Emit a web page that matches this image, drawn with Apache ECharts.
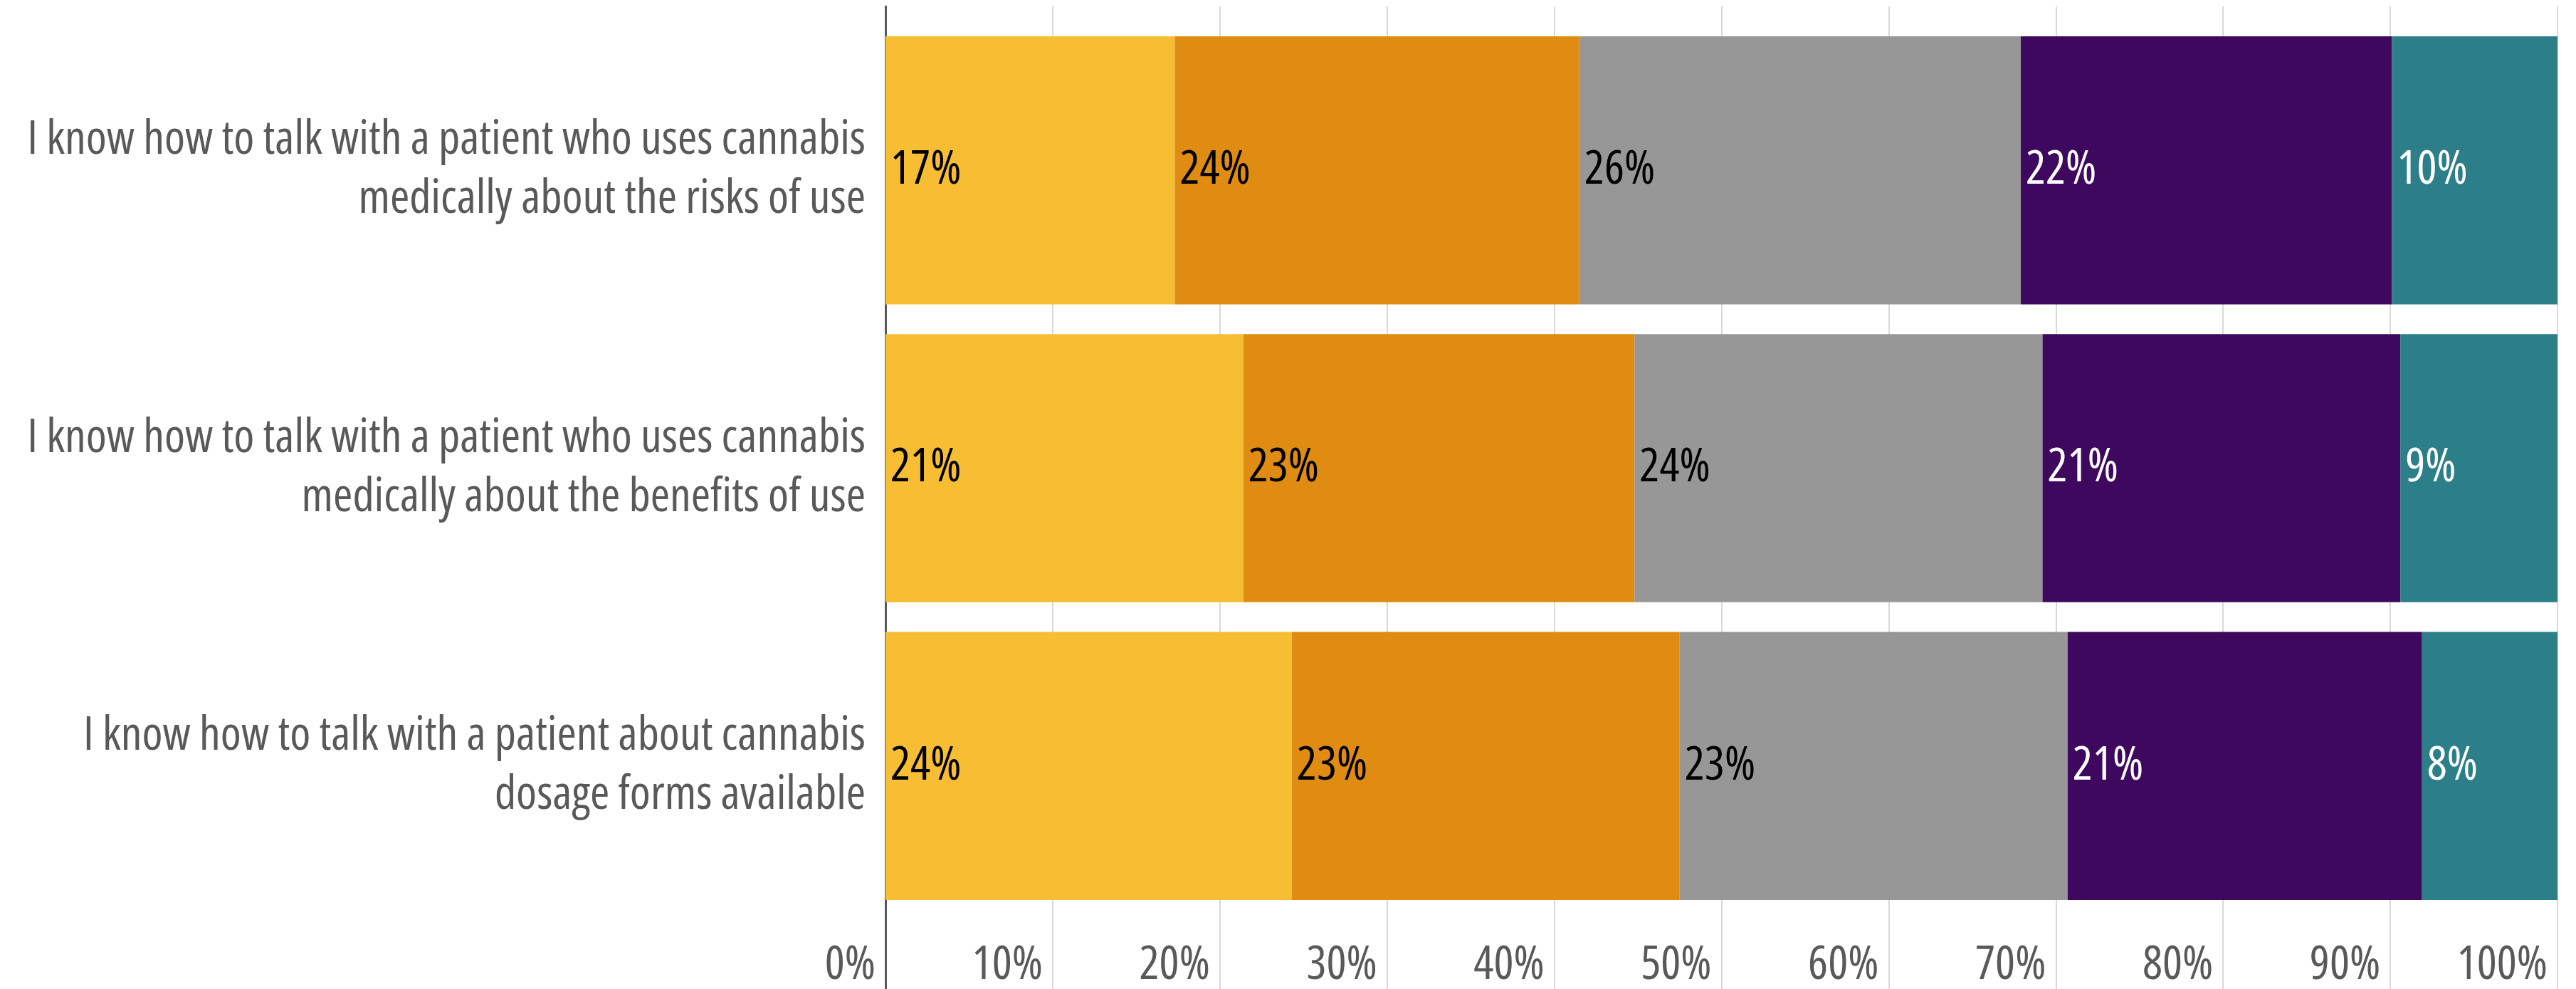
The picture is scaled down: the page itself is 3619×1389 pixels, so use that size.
<!DOCTYPE html>
<html>
<head>
<meta charset="utf-8">
<script src="https://cdn.jsdelivr.net/npm/echarts@6/dist/echarts.min.js"></script>
<style>
html,body{margin:0;padding:0;background:#fff;}
#chart{width:3619px;height:1389px;}
</style>
</head>
<body>
<div id="chart"></div>
<script>
const categories = [
  "I know how to talk with a patient who uses cannabis\nmedically about the risks of use",
  "I know how to talk with a patient who uses cannabis\nmedically about the benefits of use",
  "I know how to talk with a patient about cannabis\ndosage forms available"
];
const seriesNames = ["Strongly disagree", "Disagree", "Neutral", "Agree", "Strongly agree"];
const s1 = [17.3, 21.4, 24.3];
const s2 = [24.2, 23.4, 23.2];
const s3 = [26.4, 24.4, 23.2];
const s4 = [22.2, 21.4, 21.2];
const s5 = [9.9, 9.4, 8.1];
const xTicks = [0, 10, 20, 30, 40, 50, 60, 70, 80, 90, 100];

const colors = ["#F7BE33", "#E08C12", "#979797", "#3E085E", "#2C7E88"];
const labelColors = ["#000000", "#000000", "#000000", "#ffffff", "#ffffff"];
const FONT = "'Open Sans', 'Noto Sans', sans-serif";
const WEIGHT = "normal condensed";
const FS = 66;

const chart = echarts.init(document.getElementById('chart'), null, {renderer: 'canvas'});
const allData = [s1, s2, s3, s4, s5];

const series = allData.map((d, i) => ({
  name: seriesNames[i],
  type: 'bar',
  stack: 'total',
  xAxisIndex: 0,
  yAxisIndex: 0,
  barCategoryGap: '10%',
  data: d,
  itemStyle: {color: colors[i]},
  label: {
    show: true,
    position: 'insideLeft',
    distance: 7,
    formatter: p => Math.round(p.value) + '%',
    color: labelColors[i],
    fontFamily: FONT,
    fontWeight: WEIGHT,
    fontSize: FS
  },
  emphasis: {disabled: true}
}));

chart.setOption({
  animation: false,
  backgroundColor: '#ffffff',
  grid: [
    {left: 1244, right: 26, top: 30, bottom: 104, containLabel: false, outerBoundsMode: 'none'},
    {left: 1244, right: 26, top: 9, bottom: 0, containLabel: false, outerBoundsMode: 'none'}
  ],
  xAxis: [
    {
      gridIndex: 0, type: 'value', min: 0, max: 100, interval: 10,
      axisLine: {show: false}, axisTick: {show: false}, splitLine: {show: false},
      axisLabel: {
        show: true, formatter: v => xTicks.includes(v) ? v + '%' : '',
        align: 'right', padding: [0, 14, 0, 0], margin: 38,
        color: '#595959', fontFamily: FONT, fontWeight: WEIGHT, fontSize: FS
      }
    },
    {
      gridIndex: 1, type: 'value', min: 0, max: 100, interval: 10,
      axisLine: {show: false}, axisTick: {show: false}, axisLabel: {show: false},
      splitLine: {show: true, lineStyle: {color: '#D9D9D9', width: 2}}
    }
  ],
  yAxis: [
    {
      gridIndex: 0, type: 'category', data: categories, inverse: true,
      axisLine: {show: false}, axisTick: {show: false},
      axisLabel: {
        margin: 28, color: '#595959', fontFamily: FONT, fontWeight: WEIGHT, fontSize: FS,
        lineHeight: 83, align: 'right', padding: [12, 0, 0, 0]
      }
    },
    {
      gridIndex: 1, type: 'value', min: 0, max: 1,
      axisLine: {show: true, onZero: false, lineStyle: {color: '#595959', width: 3}},
      axisTick: {show: false}, axisLabel: {show: false}, splitLine: {show: false}
    }
  ],
  series: series
});
</script>
</body>
</html>
